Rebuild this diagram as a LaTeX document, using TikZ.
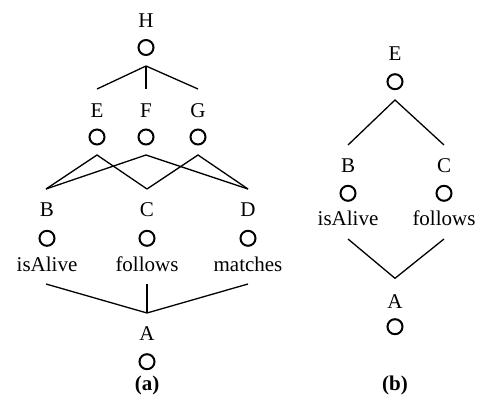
\documentclass[tikz,border=0pt]{standalone}
\usepackage{fontspec}
\setmainfont{Liberation Serif}
\begin{document}
\begin{tikzpicture}[x=1pt,y=-1pt,
  vtx/.style={circle,draw,line width=2pt,minimum size=15pt,inner sep=0pt},
  lbl/.style={font=\fontsize{21}{21}\selectfont,inner sep=0pt,anchor=base},
  captext/.style={lbl,font=\fontsize{21}{21}\selectfont\bfseries},
  edge/.style={line width=1.3pt}]
\useasboundingbox (0,0) rectangle (479,401);

% ---------- (a) ----------
\node[lbl] (lH) at (146,27.3) {H};
\node[vtx] (H) at (146,47.5) {};
\foreach \n/\x in {E/97,F/146,G/198}{
  \node[lbl] (l\n) at (\x,117.3) {\n};
  \node[vtx] (\n) at (\x,137) {};
}
\foreach \n/\x/\t in {B/47/isAlive,C/147/follows,D/248/matches}{
  \node[lbl] (l\n) at (\x,216.7) {\n};
  \node[vtx] (\n) at (\x,238.3) {};
  \node[lbl] (t\n) at (\x,271) {\t};
}
\node[lbl] (lA) at (147,340.7) {A};
\node[vtx] (A) at (147,361.7) {};
\node[captext] (capa) at (147,390) {(a)};

% connector ends
\coordinate (Hj) at (146,66);
\coordinate (Et) at (97,89);  \coordinate (Ft) at (146,89);  \coordinate (Gt) at (198,89);
\coordinate (Eb) at (97,155); \coordinate (Fb) at (146,155); \coordinate (Gb) at (198,155);
\coordinate (Bt) at (46,189); \coordinate (Ct) at (147,189); \coordinate (Dt) at (248,189);
\coordinate (Bb) at (46,284); \coordinate (Cb) at (147,284); \coordinate (Db) at (248,284);
\coordinate (Aj) at (147,313);

\draw[edge] (Et) -- (Hj) -- (Gt);
\draw[edge] (Hj) -- (Ft);
\draw[edge] (Bt) -- (Eb) -- (Ct);
\draw[edge] (Bt) -- (Fb) -- (Dt);
\draw[edge] (Ct) -- (Gb) -- (Dt);
\draw[edge] (Bb) -- (Aj) -- (Db);
\draw[edge] (Cb) -- (Aj);

% ---------- (b) ----------
\node[lbl] (lE2) at (395,60.7) {E};
\node[vtx] (E2) at (395,81.7) {};
\foreach \n/\x/\t in {B/348/isAlive,C/444/follows}{
  \node[lbl] (l\n2) at (\x,172.3) {\n};
  \node[vtx] (\n2) at (\x,193.3) {};
  \node[lbl] (t\n2) at (\x,225.7) {\t};
}
\node[lbl] (lA2) at (395,308.3) {A};
\node[vtx] (A2) at (395,326.7) {};
\node[captext] (capb) at (395,390) {(b)};

\coordinate (E2j) at (395,100);
\coordinate (B2t) at (348,145); \coordinate (C2t) at (444,145);
\coordinate (B2b) at (348,239); \coordinate (C2b) at (444,239);
\coordinate (A2j) at (395,278.3);

\draw[edge] (B2t) -- (E2j) -- (C2t);
\draw[edge] (B2b) -- (A2j) -- (C2b);
\end{tikzpicture}
\end{document}
